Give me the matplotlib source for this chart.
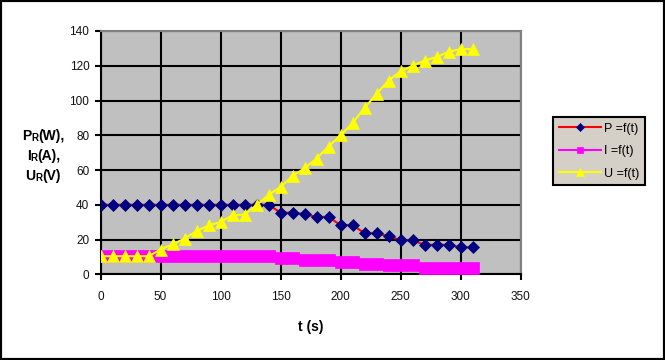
import matplotlib
matplotlib.use('Agg')
import matplotlib.pyplot as plt
from matplotlib.patches import Rectangle

plt.rcParams['font.family'] = ['Liberation Sans', 'DejaVu Sans']

# Data
t = [0, 10, 20, 30, 40, 50, 60, 70, 80, 90, 100, 110, 120, 130, 140, 150,
     160, 170, 180, 190, 200, 210, 220, 230, 240, 250, 260, 270, 280, 290, 300, 310]
P = [40, 40, 40, 40, 40, 40, 40, 40, 40, 40, 40, 40, 40, 40, 40, 35.5,
     35.5, 34.6, 33, 33, 28.3, 28.3, 23.7, 23.5, 21.9, 19.7, 19.5, 17, 17, 17, 15.5, 15.5]
I = [10.4, 10.4, 10.4, 10.4, 10.4, 10.4, 10.4, 10.4, 10.4, 10.4, 10.4, 10.4, 10.4, 10.4, 10.4, 9.4,
     9.4, 8.1, 8.1, 8.1, 6.9, 6.9, 5.8, 5.8, 5.1, 5.1, 5.1, 3.9, 3.9, 3.9, 3.9, 3.9]
U = [10.4, 10.4, 10.4, 10.4, 10.4, 14.2, 17.2, 20.6, 24.8, 28.2, 30, 34, 34.3, 39.8, 45.7, 50.2,
     56.6, 61, 66.6, 73.5, 80, 87, 95.7, 103.8, 111.5, 116.7, 120, 123, 125, 128, 129.6, 129.6]
labels = ['P =f(t)', 'I =f(t)', 'U =f(t)']

W, H = 665, 360
fig = plt.figure(figsize=(W / 100, H / 100), dpi=100)
ax = fig.add_axes([100.5 / W, 1 - 274.3 / H, 420 / W, 243.3 / H])
ax.set_facecolor('#C0C0C0')

ax.plot(t, P, color='#FF0000', lw=1.5, marker='D', ms=6.5,
        mfc='#000080', mec='#000080', mew=0.5, label=labels[0], zorder=3)
ax.plot(t, I, color='#FF00FF', lw=1.5, marker='s', ms=9.3,
        mfc='#FF00FF', mec='#FF00FF', mew=0.5, label=labels[1], zorder=4)
ax.plot(t, U, color='#FFFF00', lw=1.5, marker='^', ms=9.3,
        mfc='#FFFF00', mec='#FFFF00', mew=0.5, label=labels[2], zorder=5)

ax.set_xlim(0, 350)
ax.set_ylim(0, 140)
ax.set_xticks(range(0, 351, 50))
ax.set_yticks(range(0, 141, 20))
ax.grid(True, color='black', lw=1.5)
ax.set_axisbelow(True)
for s in ['left', 'bottom']:
    ax.spines[s].set_color('black')
    ax.spines[s].set_linewidth(1.5)
for s in ['top', 'right']:
    ax.spines[s].set_color('#808080')
    ax.spines[s].set_linewidth(1.5)
ax.tick_params(direction='out', length=4, width=1.5, labelsize=8.5,
               colors='black', labelcolor='#111111', pad=4)
ax.tick_params(axis='x', pad=8)

ax.set_xlabel('t (s)', fontsize=10, fontweight='bold', labelpad=12)


def chain(x_px, y_px, parts):
    # one y-label line: big letter, small "R", then the unit, bottoms aligned
    prev = fig.text(x_px / W, 1 - y_px / H, parts[0][0], fontsize=parts[0][1],
                    fontweight='bold', va='bottom', ha='left')
    for s, fs in parts[1:]:
        prev = ax.annotate(s, xy=(1, 0), xycoords=prev, fontsize=fs,
                           fontweight='bold', va='bottom', ha='left',
                           annotation_clip=False)


chain(22, 143, [('P', 10), ('R', 7), ('(W),', 10)])
chain(27, 163, [('I', 10), ('R', 7), ('(A),', 10)])
chain(25, 183, [('U', 10), ('R', 7), ('(V)', 10)])

leg = fig.legend(loc='upper left', bbox_to_anchor=(553 / W, 1 - 117 / H),
                 bbox_transform=fig.transFigure, borderaxespad=0,
                 fontsize=9, frameon=True, fancybox=False, framealpha=1,
                 facecolor='#D4D0C8', edgecolor='black', handlelength=3.4,
                 handletextpad=0.2, labelspacing=0.85, borderpad=0.45)
leg.get_frame().set_linewidth(1.5)
for h, ms in zip(leg.get_lines(), [4.5, 5, 5.5]):
    h.set_markersize(ms)

fig.patches.append(Rectangle((0, 0), 1, 1, transform=fig.transFigure, fill=False,
                             edgecolor='black', lw=3))

fig.savefig('out.png', dpi=100)
